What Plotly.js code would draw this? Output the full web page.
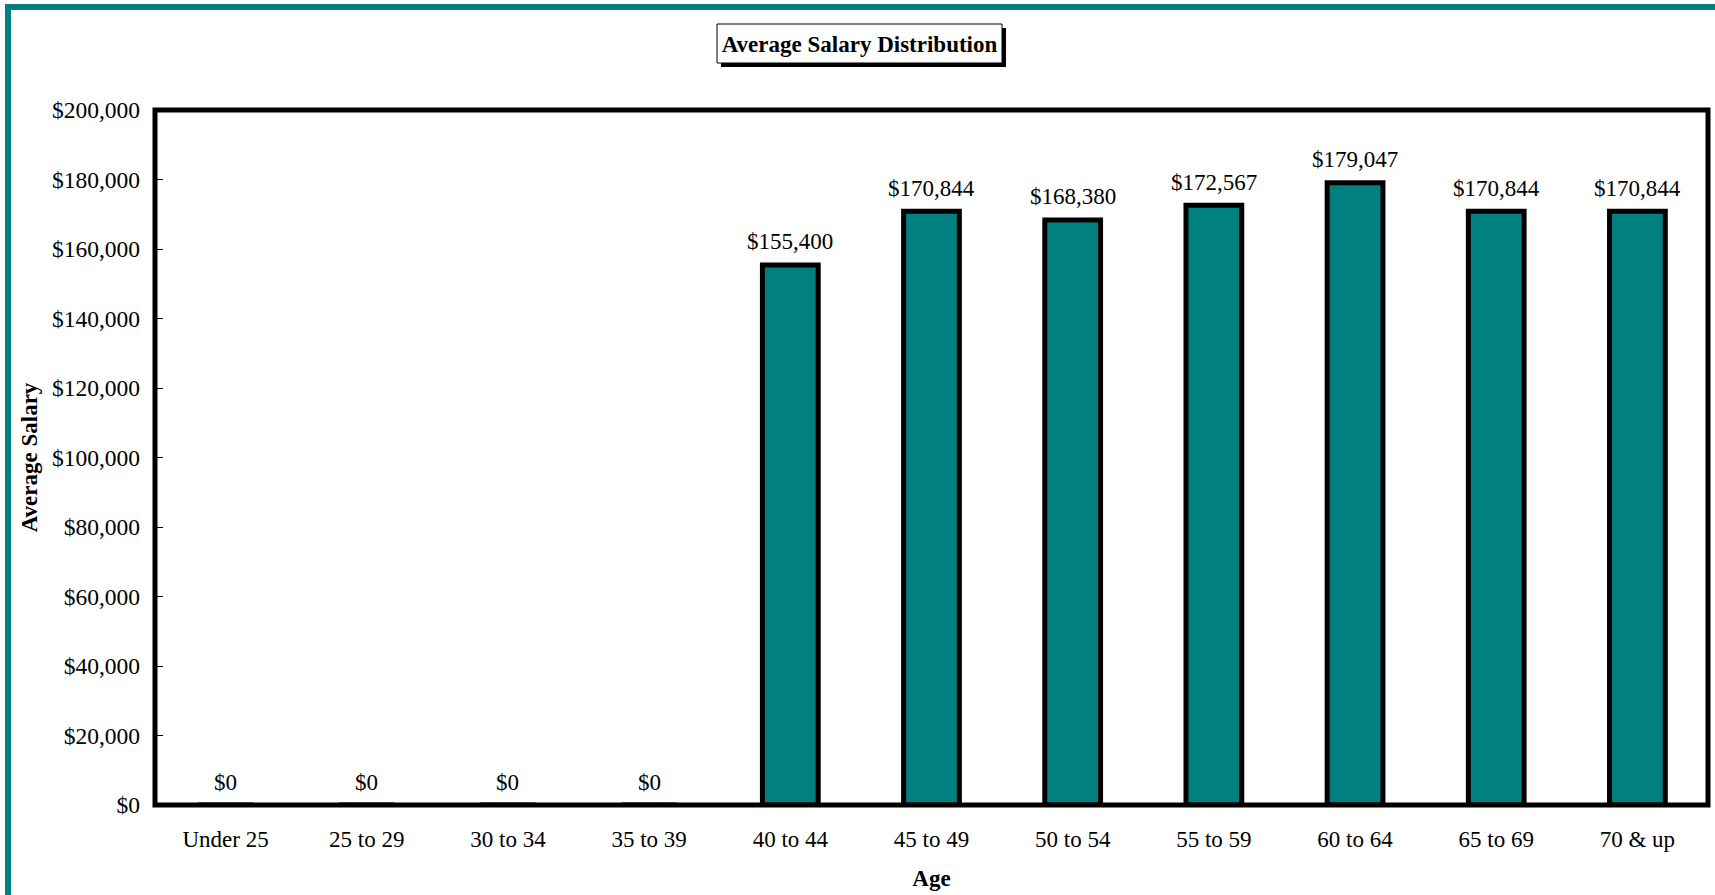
<!DOCTYPE html>
<html>
<head>
<meta charset="utf-8">
<script src="https://cdn.plot.ly/plotly-3.0.1.min.js"></script>
<style>
  html, body { margin: 0; padding: 0; background: #ffffff; }
  #chart { width: 1715px; height: 895px; }
</style>
</head>
<body>
<div id="chart"></div>
<script>
// ---- data ----
const categories = ["Under 25", "25 to 29", "30 to 34", "35 to 39", "40 to 44", "45 to 49",
                    "50 to 54", "55 to 59", "60 to 64", "65 to 69", "70 & up"];
const avgSalary = [0, 0, 0, 0, 155400, 170844, 168380, 172567, 179047, 170844, 170844];
const yTickValues = [0, 20000, 40000, 60000, 80000, 100000, 120000, 140000, 160000, 180000, 200000];

const chartTitle = "Average Salary Distribution";
const xTitle = "Age";
const yTitle = "Average Salary";

// ---- layout geometry (pixels) ----
const W = 1715, H = 895;
const M = { l: 155, r: 7, t: 110, b: 90 };
const PW = W - M.l - M.r, PH = H - M.t - M.b;
const px = v => (v - M.l) / PW;          // pixel x -> paper x
const py = v => (H - M.b - v) / PH;      // pixel y -> paper y

const FONT = "Liberation Serif, Times New Roman, serif";
const TEAL = "#008080";
const FS = 23;

const fmt = v => "$" + v.toLocaleString("en-US");

const trace = {
  type: "bar",
  x: categories,
  y: avgSalary,
  marker: { color: TEAL, line: { color: "#000000", width: 5 } },
  hoverinfo: "x+y",
  cliponaxis: false
};

const annotations = categories.map((c, i) => ({
  x: c, y: avgSalary[i], xref: "x", yref: "y",
  text: fmt(avgSalary[i]),
  showarrow: false,
  yanchor: "middle", xanchor: "center",
  yshift: 23,
  font: { family: FONT, size: FS, color: "#000000" }
}));

const shapes = [
  // outer teal frame
  { type: "rect", xref: "paper", yref: "paper", layer: "below",
    x0: px(8), y0: py(1000), x1: px(1800), y1: py(7),
    line: { color: TEAL, width: 6 }, fillcolor: "rgba(0,0,0,0)" },
  // title box shadow
  { type: "rect", xref: "paper", yref: "paper", layer: "below",
    x0: px(721), y0: py(67), x1: px(1006), y1: py(28),
    line: { width: 0 }, fillcolor: "#000000" },
  // title box
  { type: "rect", xref: "paper", yref: "paper", layer: "below",
    x0: px(717), y0: py(63), x1: px(1002), y1: py(24),
    line: { color: "#000000", width: 1 }, fillcolor: "#ffffff" },
  // plot area frame
  { type: "rect", xref: "paper", yref: "paper", layer: "above",
    x0: 0, y0: 0, x1: 1, y1: 1,
    line: { color: "#000000", width: 5 }, fillcolor: "rgba(0,0,0,0)" }
];

const layout = {
  width: W, height: H,
  margin: M,
  paper_bgcolor: "#ffffff",
  plot_bgcolor: "#ffffff",
  bargap: 0.605,
  showlegend: false,
  font: { family: FONT, size: FS, color: "#000000" },
  title: {
    text: "<b>" + chartTitle + "</b>",
    font: { family: FONT, size: FS, color: "#000000" },
    xref: "container", yref: "container",
    x: 859.5 / W, y: 1 - 43.5 / H,
    xanchor: "center", yanchor: "middle"
  },
  xaxis: {
    type: "category",
    categoryorder: "array",
    categoryarray: categories,
    showline: false, showgrid: false, zeroline: false,
    ticks: "",
    ticklabelstandoff: 18,
    tickfont: { family: FONT, size: FS, color: "#000000" },
    title: { text: "<b>" + xTitle + "</b>", font: { family: FONT, size: FS, color: "#000000" }, standoff: 18 }
  },
  yaxis: {
    range: [0, 200000],
    tickvals: yTickValues,
    tickformat: "$,.0f",
    showline: false, showgrid: false, zeroline: false,
    ticks: "inside", ticklen: 8, tickwidth: 1, tickcolor: "#000000",
    ticklabelstandoff: 14,
    tickfont: { family: FONT, size: 23.5, color: "#000000" },
    title: { text: "<b>" + yTitle + "</b>", font: { family: FONT, size: FS, color: "#000000" }, standoff: 7 }
  },
  shapes: shapes,
  annotations: annotations
};

Plotly.newPlot("chart", [trace], layout, { displayModeBar: false, responsive: false });
</script>
</body>
</html>
